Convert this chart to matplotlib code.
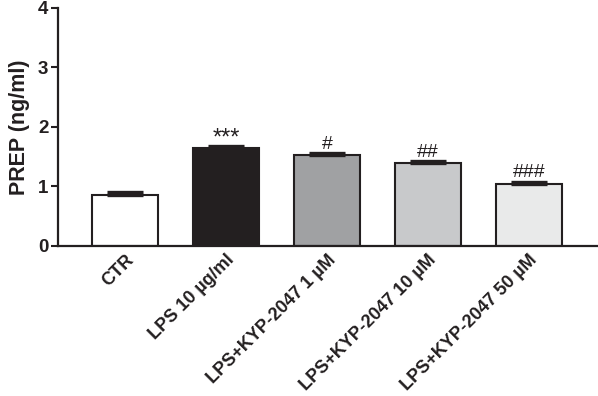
import numpy as np
import matplotlib
matplotlib.use("Agg")
from matplotlib import pyplot as plt

plt.rcParams['font.family'] = ['Liberation Sans', 'DejaVu Sans']

# Data
groups = ['CTR', 'LPS 10 µg/ml', 'LPS+KYP-2047 1 µM',
          'LPS+KYP-2047 10 µM', 'LPS+KYP-2047 50 µM']
prep = [0.86, 1.65, 1.52, 1.40, 1.04]
sem = [0.05, 0.03, 0.04, 0.03, 0.04]
marks = ['', '***', '#', '##', '###']
colors = ['#ffffff', '#231f20', '#a0a1a3', '#c8c9cb', '#e9eaea']

fig = plt.figure(figsize=(5.98, 3.96), dpi=100)
ax = fig.add_axes([0.097, 0.379, 0.903, 0.601])

x = np.arange(len(groups))
ax.bar(x, prep, width=0.653, color=colors, edgecolor='#231f20', linewidth=1.5, zorder=2)
ax.errorbar(x, prep, yerr=[np.zeros(len(sem)), sem], fmt='none', ecolor='#231f20',
            elinewidth=1.5, capsize=13, capthick=2.4, zorder=3)

for xi, v, e, m in zip(x, prep, sem, marks):
    if m == '***':
        ax.text(xi, v + e + 0.02, m, ha='center', va='baseline', fontsize=17, color='#231f20')
    elif m:
        ax.text(xi, v + e + 0.07, m, ha='center', va='baseline', fontsize=14, color='#231f20')

ax.set_xlim(-0.663, 4.683)
ax.set_ylim(0, 4)
ax.set_yticks([0, 1, 2, 3, 4])
ax.set_xticks(x)
ax.set_xticklabels(groups, rotation=45, ha='right', rotation_mode='anchor',
                   fontsize=13, fontweight='bold', color='#231f20')
for lab in ax.get_yticklabels():
    lab.set_fontsize(13.5)
    lab.set_fontweight('bold')
    lab.set_color('#231f20')
ax.tick_params(axis='x', length=0, pad=4)
ax.tick_params(axis='y', length=5, width=1.5, color='#231f20', pad=2)
ax.set_ylabel('PREP (ng/ml)', fontsize=15.5, fontweight='bold', color='#231f20', labelpad=6)

for s in ['top', 'right']:
    ax.spines[s].set_visible(False)
for s in ['left', 'bottom']:
    ax.spines[s].set_linewidth(1.6)
    ax.spines[s].set_color('#231f20')

fig.savefig('out.png', dpi=100)
